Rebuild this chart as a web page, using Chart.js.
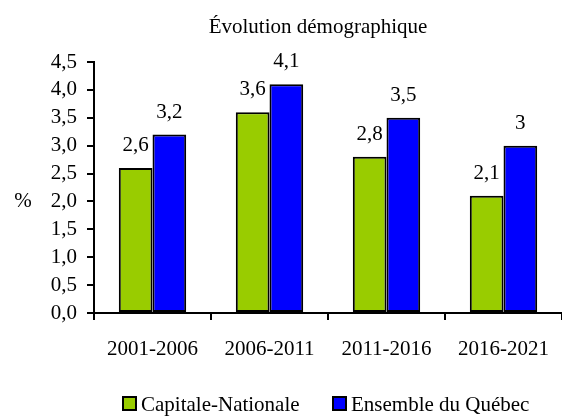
<!DOCTYPE html>
<html>
<head>
<meta charset="utf-8">
<script src="https://cdn.jsdelivr.net/npm/chart.js@4/dist/chart.umd.min.js"></script>
<style>
  html, body { margin: 0; padding: 0; background: #fff; }
  #wrap { width: 562px; height: 416px; }
</style>
</head>
<body>
<div id="wrap"><canvas id="chart" width="562" height="416"></canvas></div>
<script>
const periods = ['2001-2006', '2006-2011', '2011-2016', '2016-2021'];
const capitaleNationale = [2.6, 3.6, 2.8, 2.1];
const ensembleQuebec = [3.2, 4.1, 3.5, 3];
const seriesNames = ['Capitale-Nationale', 'Ensemble du Québec'];
const chartTitle = 'Évolution démographique';

const serif = "'Liberation Serif', 'Times New Roman', serif";
const fmt = v => String(v).replace('.', ',');
Chart.defaults.font.family = serif;
Chart.defaults.color = '#000';

// title, values above bars, "%" and the legend, drawn by hand to sit where the original has them
const extrasPlugin = {
  id: 'extras',
  afterDraw(chart) {
    const ctx = chart.ctx;
    ctx.save();
    ctx.font = '21px ' + serif;
    ctx.fillStyle = '#000';
    ctx.textAlign = 'center';
    ctx.textBaseline = 'alphabetic';

    ctx.fillText(chartTitle, 318, 33);

    chart.data.datasets.forEach((ds, i) => {
      chart.getDatasetMeta(i).data.forEach((bar, j) => {
        ctx.fillText(fmt(ds.data[j]), bar.x, bar.y - 17);
      });
    });

    ctx.textBaseline = 'middle';
    ctx.fillText('%', 23, chart.scales.y.getPixelForValue(2));

    // legend
    const items = [{ x: 123 }, { x: 333 }];
    ctx.textAlign = 'left';
    ctx.textBaseline = 'alphabetic';
    chart.data.datasets.forEach((ds, i) => {
      const x = items[i].x;
      ctx.fillStyle = ds.backgroundColor;
      ctx.fillRect(x, 397, 13, 13);
      ctx.lineWidth = 2;
      ctx.strokeStyle = '#000';
      ctx.strokeRect(x, 397, 13, 13);
      ctx.fillStyle = '#000';
      ctx.fillText(ds.label, x + 18, 411);
    });
    ctx.restore();
  }
};

new Chart(document.getElementById('chart'), {
  type: 'bar',
  data: {
    labels: periods,
    datasets: [
      {
        label: seriesNames[0],
        data: capitaleNationale,
        backgroundColor: '#99CC00',
        borderColor: '#000',
        borderWidth: 2,
        borderSkipped: false
      },
      {
        label: seriesNames[1],
        data: ensembleQuebec,
        backgroundColor: '#0000FF',
        borderColor: '#000',
        borderWidth: 2,
        borderSkipped: false
      }
    ]
  },
  options: {
    responsive: false,
    animation: false,
    categoryPercentage: 0.576,
    barPercentage: 1,
    layout: { padding: { top: 62, right: 0, bottom: 0, left: 0 } },
    plugins: {
      title: { display: false },
      legend: { display: false },
      tooltip: { enabled: false }
    },
    scales: {
      x: {
        grid: { drawOnChartArea: false, color: '#000', lineWidth: 2, tickLength: 7, offset: true },
        border: { color: '#000', width: 2 },
        ticks: { color: '#000', font: { size: 21 }, padding: 17, maxRotation: 0, autoSkip: false },
        afterFit(scale) {
          scale.height = 103;
          scale.paddingLeft = 0;
          scale.paddingRight = 0;
        }
      },
      y: {
        min: 0,
        max: 4.5,
        grid: { drawOnChartArea: false, color: '#000', lineWidth: 2, tickLength: 7 },
        border: { color: '#000', width: 2 },
        ticks: {
          stepSize: 0.5,
          autoSkip: false,
          color: '#000',
          font: { size: 21 },
          padding: 10,
          callback: v => v.toFixed(1).replace('.', ',')
        },
        afterFit(scale) { scale.width = 94; }
      }
    }
  },
  plugins: [extrasPlugin]
});
</script>
</body>
</html>
